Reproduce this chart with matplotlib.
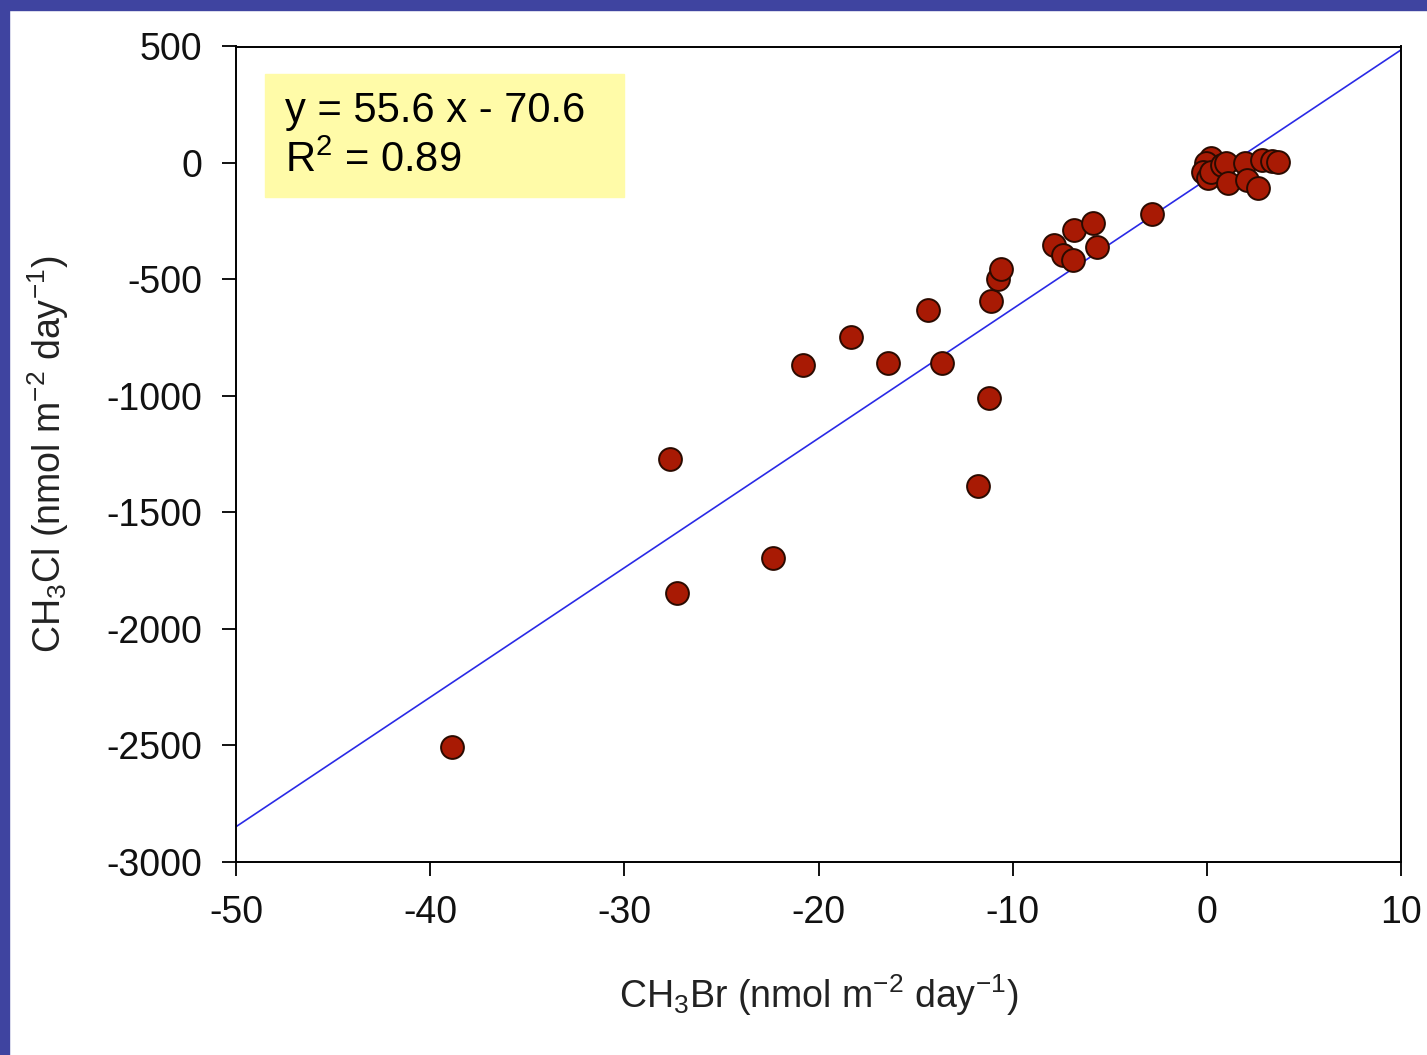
import numpy as np
import matplotlib
matplotlib.use("Agg")
import matplotlib.pyplot as plt
from matplotlib.patches import Rectangle

plt.rcParams['font.family'] = ['Liberation Sans', 'DejaVu Sans']
plt.rcParams['mathtext.fontset'] = 'custom'
plt.rcParams['mathtext.rm'] = 'Liberation Sans'
plt.rcParams['mathtext.it'] = 'Liberation Sans'
plt.rcParams['mathtext.default'] = 'regular'
plt.rcParams['axes.unicode_minus'] = False

# CH3Br flux vs CH3Cl flux
ch3br = [-38.9, -27.65, -27.3, -22.35, -20.8, -18.33, -16.43, -14.37, -13.65,
         -11.79, -11.23, -11.12, -10.76, -10.61, -7.88, -7.41, -6.9, -6.85,
         -5.87, -5.66, -2.83,
         0.24, -0.02, -0.19, 0.07, 0.24, 0.76, 1.01, 1.10, 1.96, 2.05, 2.65,
         2.82, 3.34, 3.68]
ch3cl = [-2508, -1271, -1846, -1696, -867, -747, -859, -631, -859,
         -1387, -1009, -593, -498, -455, -352, -395, -417, -288,
         -258, -361, -219,
         20, -1, -37, -66, -37, -8, -1, -87, -1, -73, -109,
         13, 10, 3]

slope = 55.6
intercept = -70.6
eq_text = "y = 55.6 x - 70.6\nR$^2$ = 0.89"

xlim = (-50, 10)
ylim = (-3000, 500)
xticks = [-50, -40, -30, -20, -10, 0, 10]
yticks = [-3000, -2500, -2000, -1500, -1000, -500, 0, 500]

W, H = 1427, 1055
fig = plt.figure(figsize=(W / 100, H / 100), dpi=100)
ax = fig.add_axes([236 / W, 1 - 861.5 / H, (1401 - 236) / W, (861.5 - 46.5) / H])

# blue slide frame
fig.patches.append(Rectangle((0, 1 - 10 / H), 1, 10 / H, transform=fig.transFigure,
                             color='#3F44A0', zorder=0))
fig.patches.append(Rectangle((0, 0), 9 / W, 1, transform=fig.transFigure,
                             color='#3F44A0', zorder=0))

xl = np.array(xlim)
ax.plot(xl, slope * xl + intercept, color='#2A2AE6', lw=1.2, zorder=2)
ax.scatter(ch3br, ch3cl, s=270, color='#A81A04', edgecolors='#2a0a00',
           linewidths=1.4, zorder=3, clip_on=False)

ax.set_xlim(xlim)
ax.set_ylim(ylim)
ax.set_xticks(xticks)
ax.set_yticks(yticks)
ax.tick_params(direction='out', length=10, width=1.4, labelsize=27, pad=14,
               colors='#111111')
for sp in ax.spines.values():
    sp.set_linewidth(1.4)

ax.set_xlabel(r'CH$_3$Br (nmol m$^{-2}$ day$^{-1}$)', fontsize=27, labelpad=30,
              color='#222222')
ax.set_ylabel(r'CH$_3$Cl (nmol m$^{-2}$ day$^{-1}$)', fontsize=27, labelpad=26,
              color='#222222')

# equation box
fig.patches.append(Rectangle((265 / W, 1 - 197 / H), (624 - 265) / W, (197 - 74) / H,
                             transform=fig.transFigure, color='#FFFBA8', zorder=1))
fig.text(285 / W, 1 - 136 / H, eq_text, fontsize=30, va='center', ha='left',
         linespacing=1.3, zorder=5)

fig.savefig('out.png', dpi=100)
